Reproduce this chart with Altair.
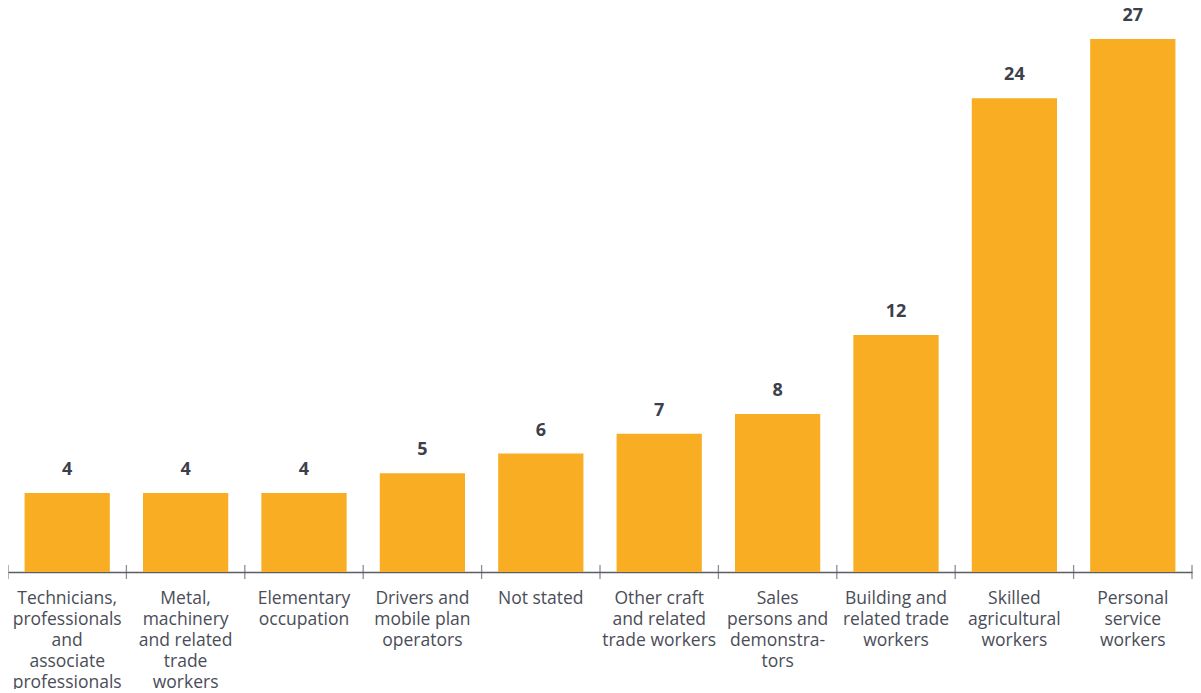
import altair as alt
import pandas as pd

categories = [
    "Technicians,|professionals|and|associate|professionals",
    "Metal,|machinery|and related|trade|workers",
    "Elementary|occupation",
    "Drivers and|mobile plan|operators",
    "Not stated",
    "Other craft|and related|trade workers",
    "Sales|persons and|demonstra-|tors",
    "Building and|related trade|workers",
    "Skilled|agricultural|workers",
    "Personal|service|workers",
]
values = [4, 4, 4, 5, 6, 7, 8, 12, 24, 27]

df = pd.DataFrame({"cat": categories, "value": values})
last_cat = categories[-1]

BAR = "#F9AD22"
AXIS = "#5b5e66"
LABEL = "#4a4d57"
VAL = "#3d404b"
FONT = "Open Sans"

xscale = alt.Scale(paddingInner=0, paddingOuter=0)
yscale = alt.Scale(domain=[0, 27], nice=False, zero=True)

base = alt.Chart(df)

bars = base.mark_bar(width=alt.RelativeBandSize(0.72), color=BAR).encode(
    x=alt.X(
        "cat:N",
        sort=None,
        scale=xscale,
        axis=alt.Axis(
            title=None,
            labelExpr="split(datum.label, '|')",
            labelAngle=0,
            ticks=False,
            domainColor=AXIS,
            domainWidth=1.3,
            labelFont=FONT,
            labelFontSize=17.5,
            labelColor=LABEL,
            labelLineHeight=21,
            labelPadding=17,
            labelLimit=0,
            labelBaseline="top",
        ),
    ),
    y=alt.Y("value:Q", scale=yscale, axis=None),
)

text = base.mark_text(
    dy=-18, baseline="alphabetic", fontWeight="bold", fontSize=18, font=FONT, color=VAL
).encode(
    x=alt.X("cat:N", sort=None, scale=xscale),
    y=alt.Y("value:Q", scale=yscale),
    text=alt.Text("value:Q"),
)

ticks = base.mark_tick(orient="vertical", size=14, thickness=1.3, color=AXIS).encode(
    x=alt.X("cat:N", sort=None, scale=xscale, bandPosition=0),
    y=alt.datum(0),
)

end_tick = (
    base.transform_filter(alt.datum.cat == last_cat)
    .mark_tick(orient="vertical", size=14, thickness=1.3, color=AXIS)
    .encode(
        x=alt.X("cat:N", sort=None, scale=xscale, bandPosition=1),
        y=alt.datum(0),
    )
)

chart = (
    alt.layer(bars, text, ticks, end_tick)
    .properties(
        width=1184,
        height=533,
        autosize=alt.AutoSizeParams(type="none"),
        padding={"left": 0, "right": 1, "top": 31, "bottom": 117},
    )
    .configure_view(stroke=None)
)

chart.save("out.html", embed_options={"renderer": "svg", "actions": False})
